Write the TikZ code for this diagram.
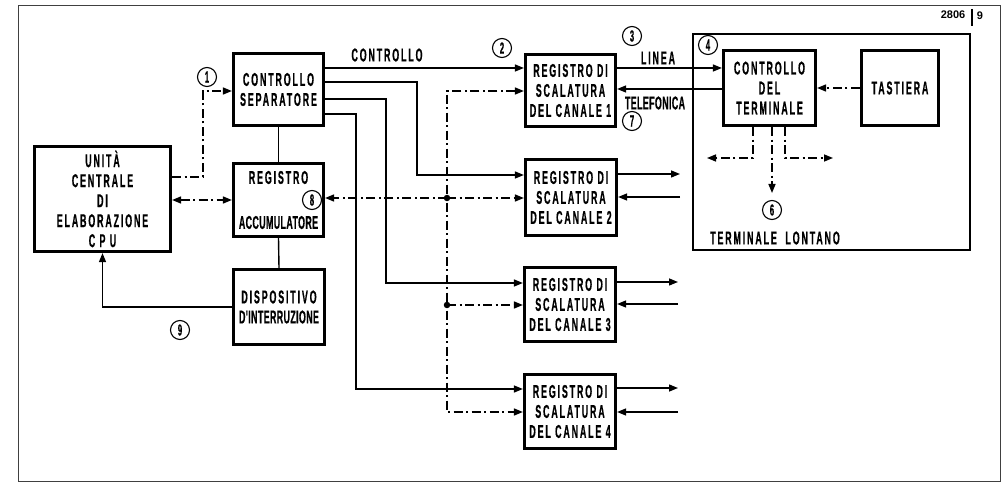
\documentclass[tikz,border=0pt]{standalone}
\usepackage{fontspec}
\setmainfont{Liberation Sans}[FakeStretch=0.48,LetterSpace=10,BoldFeatures={FakeBold=0.6}]
\newfontfamily\tightf{Liberation Sans}[FakeStretch=0.48,LetterSpace=2,BoldFeatures={FakeBold=0.6}]
\newfontfamily\plainf{Liberation Sans}
\usetikzlibrary{arrows.meta,calc}
\newcommand\labf{\fontsize{18.5}{20}\selectfont\bfseries}
\newcommand\numf{\fontsize{16}{18}\selectfont\bfseries}
\begin{document}
\begin{tikzpicture}[x=1pt,y=-1pt,
  blk/.style={draw,line width=3.2pt,inner sep=0pt,align=center,font=\labf},
  num/.style={draw,circle,line width=1.1pt,minimum size=19pt,inner sep=0pt,font=\numf},
  ln/.style={line width=1.4pt},
  dd/.style={line width=1.5pt,dash pattern=on 9pt off 3.5pt on 2pt off 3.5pt},
  arr/.style={-{Triangle[length=9pt,width=7pt]}},
  txt/.style={font=\labf,inner sep=0pt},
  dot/.style={circle,fill,inner sep=0pt,minimum size=6.5pt}]
\useasboundingbox (0,0) rectangle (1004,486);
\draw[line width=1pt,black!75] (18,6) rectangle (1000,481);
% blocks
\node[blk,minimum width=136pt,minimum height=105pt] (cpu) at (102.5,199)
  {\fontsize{18.5}{19.2}\selectfont UNIT\`A\\CENTRALE\\DI\\ELABORAZIONE\\C~P~U};
\node[blk,minimum width=90pt,minimum height=72pt] (ctrl) at (278.5,89.5)
  {\fontsize{18.5}{24}\selectfont CONTROLLO\\SEPARATORE};
\node[blk,minimum width=90pt,minimum height=73pt] (acc) at (278.5,200)
  {REGISTRO\\[25pt]{\tightf ACCUMULATORE}};
\node[blk,minimum width=91pt,minimum height=75pt] (disp) at (279,307)
  {\fontsize{18.5}{25}\selectfont DISPOSITIVO\\{\tightf D'INTERRUZIONE}};
\node[blk,minimum width=90pt,minimum height=72pt] (r1) at (570.5,90.5)
  {REGISTRO DI\\SCALATURA\\DEL CANALE 1};
\node[blk,minimum width=91pt,minimum height=76pt] (r2) at (571,197.5)
  {REGISTRO DI\\SCALATURA\\DEL CANALE 2};
\node[blk,minimum width=91pt,minimum height=74pt] (r3) at (570,304.5)
  {REGISTRO DI\\SCALATURA\\DEL CANALE 3};
\node[blk,minimum width=91pt,minimum height=74pt] (r4) at (570,411.5)
  {REGISTRO DI\\SCALATURA\\DEL CANALE 4};
\node[draw,line width=1.3pt,minimum width=277pt,minimum height=216pt,inner sep=0pt] (term) at (831.5,142) {};
\node[blk,minimum width=92pt,minimum height=75pt] (ct) at (769.5,88)
  {CONTROLLO\\DEL\\TERMINALE};
\node[blk,minimum width=77pt,minimum height=75pt] (tast) at (900,88) {TASTIERA};
% helper coordinates
\coordinate (y68) at (0,68);
\coordinate (y82) at (0,82);
\coordinate (y99) at (0,99);
\coordinate (y114) at (0,114);
\coordinate (y89) at (0,89);
\coordinate (y177) at (0,177);
\coordinate (y200) at (0,200);
\coordinate (c2) at (417,175);
\coordinate (c3) at (386,283);
\coordinate (c4) at (356,389);
\coordinate (b1) at (447,91);
\coordinate (bj2) at (447,198);
\coordinate (bj3) at (447,305);
\coordinate (b4) at (447,412);
\coordinate (p1) at (203,91);
\coordinate (o2) at (680,174);
\coordinate (i2) at (680,197);
\coordinate (o3) at (678,282);
\coordinate (i3) at (678,304);
\coordinate (o4) at (678,388);
\coordinate (i4) at (678,412);
\coordinate (tl) at (707,158);
\coordinate (tm) at (772,193);
\coordinate (tr) at (833,158);
% solid vertical links
\draw[ln] (ctrl.south) -- (acc.north);
\draw[ln] (acc.south) -- (disp.north);
% control lines
\draw[ln,arr] (ctrl.east |- y68) -- (r1.west |- y68);
\draw[ln,arr] (ctrl.east |- y82) -| (c2) -- (r2.west |- c2);
\draw[ln,arr] (ctrl.east |- y99) -| (c3) -- (r3.west |- c3);
\draw[ln,arr] (ctrl.east |- y114) -| (c4) -- (r4.west |- c4);
% data bus
\draw[dd,{Triangle[length=9pt,width=7pt]}-{Triangle[length=9pt,width=7pt]}] (r1.west |- b1) -- (b1) -- (b4) -- (r4.west |- b4);
\draw[dd,arr] (bj2) -- (r2.west |- bj2);
\draw[dd,arr] (bj2) -- (acc.east |- bj2);
\draw[dd,arr] (bj3) -- (r3.west |- bj3);
\node[dot] (d2) at (bj2) {};
\node[dot] (d3) at (bj3) {};
% cpu links
\draw[dd,arr] (cpu.east |- y177) -| (p1) -- (ctrl.west |- p1);
\draw[dd,{Triangle[length=9pt,width=7pt]}-{Triangle[length=9pt,width=7pt]}] (cpu.east |- y200) -- (acc.west |- y200);
\draw[ln,arr] (disp.west) -| (cpu.south);
% telephone line
\draw[ln,arr] (r1.east |- y68) -- (ct.west |- y68);
\draw[ln,arr] (ct.west |- y89) -- (r1.east |- y89);
\draw[dd,arr] (tast.west) -- (ct.east |- tast.west);
% terminal outputs
\draw[dd,arr] (ct.south -| 753,0) |- (tl);
\draw[dd,arr] (ct.south -| tm) -- (tm);
\draw[dd,arr] (ct.south -| 785,0) |- (tr);
% register outputs
\draw[ln,arr] (r2.east |- o2) -- (o2);
\draw[ln,arr] (i2) -- (r2.east |- i2);
\draw[ln,arr] (r3.east |- o3) -- (o3);
\draw[ln,arr] (i3) -- (r3.east |- i3);
\draw[ln,arr] (r4.east |- o4) -- (o4);
\draw[ln,arr] (i4) -- (r4.east |- i4);
% numbers
\node[num] (n1) at (207,77) {1};
\node[num] (n2) at (502,48) {2};
\node[num] (n3) at (632,36) {3};
\node[num] (n4) at (708,45) {4};
\node[num] (n6) at (772,210) {6};
\node[num] (n7) at (632,121) {7};
\node[num] (n8) at (312,200) {8};
\node[num] (n9) at (180,330) {9};
% texts
\node[txt] (tctrl) at (387,55) {CONTROLLO};
\node[txt] (tlin) at (658,58) {LINEA};
\node[txt] (ttel) at (655,103) {\tightf TELEFONICA};
\node[txt] (tlon) at (775,238) {TERMINALE~~LONTANO};
\node[inner sep=0pt,font=\plainf\fontsize{11}{12}\selectfont\bfseries] (fig) at (953,15) {2806};
\node[inner sep=0pt,font=\plainf\fontsize{11}{12}\selectfont\bfseries] (fign) at (980,16) {9};
\draw[line width=1.2pt] (972,9) -- (972,26);
\end{tikzpicture}
\end{document}
